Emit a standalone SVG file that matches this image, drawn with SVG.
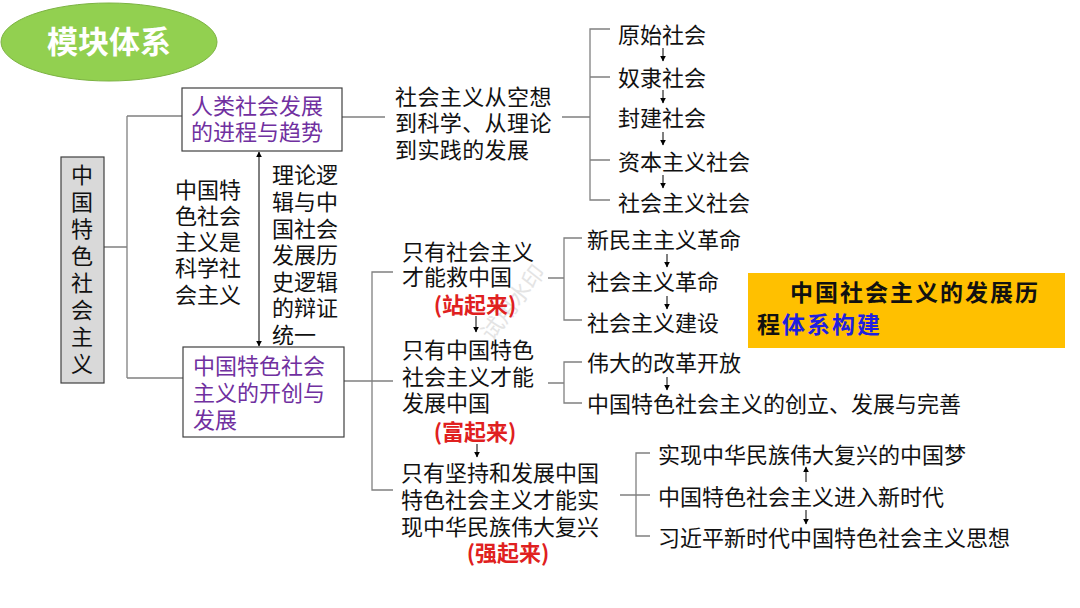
<svg xmlns="http://www.w3.org/2000/svg" width="1080" height="608" viewBox="0 0 1080 608">
<defs>
<marker id="ah" viewBox="0 0 10 10" refX="9" refY="5" markerWidth="6" markerHeight="6" orient="auto-start-reverse" markerUnits="userSpaceOnUse">
<path d="M0,0 L10,5 L0,10 z" fill="#000"/>
</marker>
<style>
text{font-family:"Noto Sans CJK SC","Noto Sans",sans-serif;font-size:22px;fill:#111}
.p{fill:#7030A0}
.r{fill:#E02020;font-weight:bold;text-anchor:middle}
.ln{stroke:#808080;stroke-width:1.3;fill:none}
.ar{stroke:#000;stroke-width:1;fill:none;marker-end:url(#ah)}
.box{fill:#fff;stroke:#404040;stroke-width:1.2}
</style>
</defs>
<rect width="1080" height="608" fill="#fff"/>

<g id="title">
<ellipse cx="109" cy="42" rx="108" ry="39" fill="#92D050" stroke="#7cb342" stroke-width="1"/>
<text x="109" y="53" text-anchor="middle" style="font-size:31px;font-weight:bold;fill:#fff">模块体系</text>
</g>

<g id="watermark">
<text x="0" y="0" transform="translate(492,342) rotate(-52)" style="fill:#e4e4e4;font-size:22px">试用水印</text>
</g>

<g id="connectors">
<!-- root -->
<path class="ln" d="M104,247 H127 M127,116 V378 M127,116 H182 M127,378 H183"/>
<!-- box1 -->
<path class="ln" d="M342,117 H385 M562,117 H590 M610,29 H590 V200 H610 M590,77 H610 M590,160 H610"/>
<!-- box2 -->
<path class="ln" d="M344,381 H393 M393,272 H372 V490 H393"/>
<!-- group1 -->
<path class="ln" d="M548,278 H564 M582,238 H564 V320 H582"/>
<!-- group2 -->
<path class="ln" d="M548,383 H564 M582,362 H564 V403 H582"/>
<!-- group3 -->
<path class="ln" d="M620,495 H650 M650,453 H636 V536 H650"/>
<!-- double arrow -->
<line class="ar" x1="259" y1="249" x2="259" y2="152"/>
<line class="ar" x1="259" y1="249" x2="259" y2="346"/>
<!-- stage arrows -->
<line class="ar" x1="663" y1="48" x2="663" y2="61"/>
<line class="ar" x1="663" y1="90" x2="663" y2="103"/>
<line class="ar" x1="663" y1="132" x2="663" y2="145"/>
<line class="ar" x1="663" y1="175" x2="663" y2="188"/>
<line class="ar" x1="476" y1="316" x2="476" y2="332"/>
<line class="ar" x1="477" y1="444" x2="477" y2="457"/>
<line class="ar" x1="667" y1="254" x2="667" y2="267"/>
<line class="ar" x1="667" y1="296" x2="667" y2="309"/>
<line class="ar" x1="667" y1="377" x2="667" y2="390"/>
<line class="ar" x1="806" y1="482" x2="806" y2="467"/>
<line class="ar" x1="806" y1="510" x2="806" y2="524"/>
</g>

<g id="root">
<rect x="61" y="157" width="43" height="226" fill="#d9d9d9" stroke="#404040" stroke-width="1.2"/>
<text x="82" text-anchor="middle">
<tspan x="82" y="183">中</tspan><tspan x="82" y="210">国</tspan><tspan x="82" y="237">特</tspan><tspan x="82" y="264">色</tspan><tspan x="82" y="291">社</tspan><tspan x="82" y="318">会</tspan><tspan x="82" y="345">主</tspan><tspan x="82" y="372">义</tspan>
</text>
</g>

<g id="box1">
<rect class="box" x="182" y="88" width="160" height="63"/>
<text class="p"><tspan x="191" y="114">人类社会发展</tspan><tspan x="191" y="140">的进程与趋势</tspan></text>
</g>

<g id="box2">
<rect class="box" x="183" y="347" width="161" height="90"/>
<text class="p"><tspan x="193" y="374">中国特色社会</tspan><tspan x="193" y="401">主义的开创与</tspan><tspan x="193" y="428">发展</tspan></text>
</g>

<g id="note-left">
<text><tspan x="175" y="198">中国特</tspan><tspan x="175" y="224">色社会</tspan><tspan x="175" y="250">主义是</tspan><tspan x="175" y="276">科学社</tspan><tspan x="175" y="303">会主义</tspan></text>
</g>

<g id="note-right">
<text><tspan x="272" y="183">理论逻</tspan><tspan x="272" y="210">辑与中</tspan><tspan x="272" y="237">国社会</tspan><tspan x="272" y="263">发展历</tspan><tspan x="272" y="290">史逻辑</tspan><tspan x="272" y="316">的辩证</tspan><tspan x="272" y="343">统一</tspan></text>
</g>

<g id="socialism-dev">
<text style="letter-spacing:0.4px"><tspan x="395" y="105">社会主义从空想</tspan><tspan x="395" y="131">到科学、从理论</tspan><tspan x="395" y="158">到实践的发展</tspan></text>
</g>

<g id="stages">
<text x="618" y="43">原始社会</text>
<text x="618" y="86">奴隶社会</text>
<text x="618" y="126">封建社会</text>
<text x="618" y="170">资本主义社会</text>
<text x="618" y="211">社会主义社会</text>
</g>

<g id="stand-up">
<text><tspan x="402" y="260">只有社会主义</tspan><tspan x="402" y="285">才能救中国</tspan></text>
<text class="r" x="475" y="313">(站起来)</text>
</g>

<g id="rich">
<text><tspan x="402" y="358">只有中国特色</tspan><tspan x="402" y="385">社会主义才能</tspan><tspan x="402" y="411">发展中国</tspan></text>
<text class="r" x="475" y="440">(富起来)</text>
</g>

<g id="strong">
<text><tspan x="401" y="481">只有坚持和发展中国</tspan><tspan x="401" y="508">特色社会主义才能实</tspan><tspan x="401" y="535">现中华民族伟大复兴</tspan></text>
<text class="r" x="508" y="561">(强起来)</text>
</g>

<g id="group1">
<text x="587" y="248">新民主主义革命</text>
<text x="587" y="290">社会主义革命</text>
<text x="587" y="331">社会主义建设</text>
</g>

<g id="group2">
<text x="587" y="371">伟大的改革开放</text>
<text x="587" y="412">中国特色社会主义的创立、发展与完善</text>
</g>

<g id="group3">
<text x="658" y="463">实现中华民族伟大复兴的中国梦</text>
<text x="658" y="505">中国特色社会主义进入新时代</text>
<text x="658" y="546">习近平新时代中国特色社会主义思想</text>
</g>

<g id="banner">
<rect x="748" y="273" width="317" height="75" fill="#FFC000"/>
<text style="font-weight:bold;font-size:23px;letter-spacing:2px"><tspan x="790" y="301">中国社会主义的发展历</tspan><tspan x="757" y="333">程<tspan style="fill:#1F1FE0">体系构建</tspan></tspan></text>
</g>
</svg>
